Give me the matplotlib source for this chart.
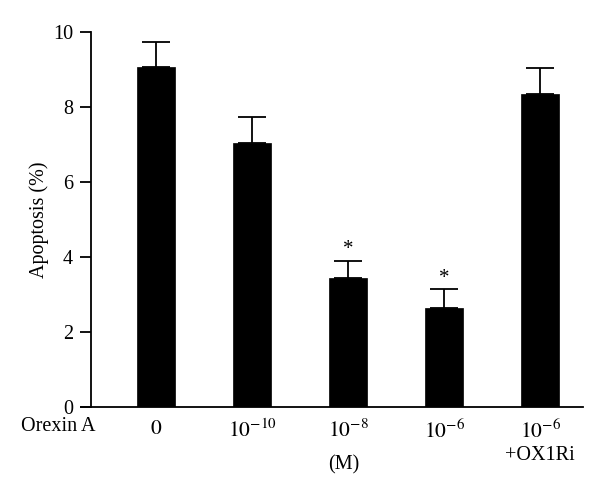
import numpy as np
import matplotlib
matplotlib.use('Agg')
import matplotlib.pyplot as plt

# values
groups = ['$0$', '$10^{-10}$', '$10^{-8}$', '$10^{-6}$', '$10^{-6}$']
apoptosis = [9.07, 7.04, 3.44, 2.65, 8.35]
err = [0.66, 0.69, 0.46, 0.50, 0.70]
signif = [False, False, True, True, False]

plt.rcParams['font.family'] = ['Liberation Serif', 'DejaVu Serif']
plt.rcParams['mathtext.fontset'] = 'stix'

fig = plt.figure(figsize=(6, 4.96), dpi=100)
ax = fig.add_axes([0.135, 0.1794, 0.837, 0.756])

x = np.arange(len(apoptosis))
ax.bar(x, apoptosis, width=0.40, color='black', edgecolor='black', linewidth=0.5, zorder=2)
ax.errorbar(x, apoptosis, yerr=[np.zeros(len(err)), err], fmt='none',
            ecolor='black', elinewidth=1.3, capsize=10, capthick=1.3, clip_on=False, zorder=1)

for xi, v, e, s in zip(x, apoptosis, err, signif):
    if s:
        ax.annotate('*', (xi, v + e), xytext=(0, 1), textcoords='offset points',
                    ha='center', va='bottom', fontsize=15)

ax.set_xlim(-0.781, 4.448)
ax.set_ylim(0, 10)
ax.spines['top'].set_visible(False)
ax.spines['right'].set_visible(False)
ax.spines['left'].set_position(('data', -0.677))
ax.spines['left'].set_bounds(0, 10)
ax.spines['left'].set_linewidth(1.3)
ax.spines['bottom'].set_linewidth(1.3)

ax.set_yticks([0, 2, 4, 6, 8, 10])
ax.tick_params(axis='y', direction='out', length=8, width=1.3, pad=5, labelsize=14.5)
ax.set_xticks(x)
ax.set_xticklabels(groups, fontsize=15.5)
ax.tick_params(axis='x', length=0, pad=9)

ax.set_ylabel('Apoptosis (%)', fontsize=14.5, labelpad=3)

ax.text(-1.02, -0.53, 'Orexin A', ha='center', va='center', fontsize=14.5, clip_on=False)
ax.text(4, -1.28, '+OX1Ri', ha='center', va='center', fontsize=14.5, clip_on=False)
ax.text(1.95, -1.55, '(M)', ha='center', va='center', fontsize=14.5, clip_on=False)

fig.savefig('out.png', dpi=100)
